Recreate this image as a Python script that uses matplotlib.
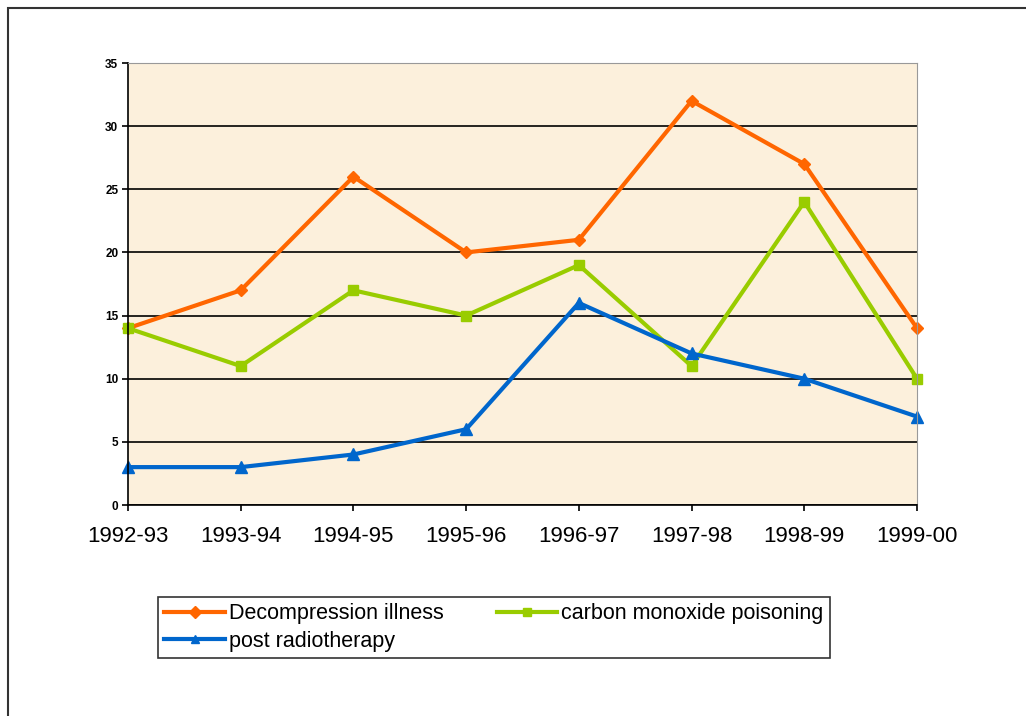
import matplotlib.pyplot as plt
from matplotlib.patches import Rectangle

plt.rcParams['font.family'] = ['Liberation Sans', 'DejaVu Sans']

seasons = ['1992-93', '1993-94', '1994-95', '1995-96', '1996-97', '1997-98', '1998-99', '1999-00']
decompression = [14, 17, 26, 20, 21, 32, 27, 14]
carbon_monoxide = [14, 11, 17, 15, 19, 11, 24, 10]
radiotherapy = [3, 3, 4, 6, 16, 12, 10, 7]
y_ticks = [0, 5, 10, 15, 20, 25, 30, 35]


def main():
    fig = plt.figure(figsize=(10.26, 7.16), dpi=100)
    ax = fig.add_axes([128 / 1026, 1 - 505 / 716, (917 - 128) / 1026, (505 - 63) / 716])
    ax.set_facecolor('#FCF0DC')

    x = range(len(seasons))
    l1, = ax.plot(x, decompression, color='#FF6600', lw=3, marker='D', ms=6, label='Decompression illness')
    l2, = ax.plot(x, carbon_monoxide, color='#99CC00', lw=3, marker='s', ms=7, label='carbon monoxide poisoning')
    l3, = ax.plot(x, radiotherapy, color='#0066CC', lw=3, marker='^', ms=8, label='post radiotherapy')
    for ln in (l1, l2, l3):
        ln.set_clip_on(False)

    ax.set_xlim(0, len(seasons) - 1)
    ax.set_ylim(0, 35)
    ax.set_yticks(y_ticks)
    ax.set_yticklabels([str(v) for v in y_ticks], fontsize=8.5, fontweight='bold')
    ax.set_xticks(list(x))
    ax.set_xticklabels(seasons, fontsize=16)
    ax.tick_params(axis='x', length=4, width=1.2, pad=11, color='black')
    ax.tick_params(axis='y', length=4, width=1.2, pad=3, color='black')
    ax.grid(axis='y', color='black', lw=1.2)
    ax.set_axisbelow(True)
    ax.spines['left'].set_linewidth(1.2)
    ax.spines['bottom'].set_linewidth(1.2)
    ax.spines['top'].set_color('#999999')
    ax.spines['right'].set_color('#999999')

    leg = fig.legend(handles=[l1, l3, l2], ncol=2, loc='upper left',
                     bbox_to_anchor=(158 / 1026, 1 - 660 / 716, (830 - 158) / 1026, (660 - 597) / 716),
                     mode='expand', fontsize=15.5, frameon=True, fancybox=False,
                     edgecolor='black', borderaxespad=0, handlelength=2.8,
                     handletextpad=0.2, labelspacing=0.3, borderpad=0.3, columnspacing=1)
    leg.get_frame().set_linewidth(1.2)
    for h in leg.legend_handles:
        h.set_markersize(6)

    fig.patches.append(Rectangle((8 / 1026, -0.1), 1.2, 1 - 8 / 716 + 0.1, transform=fig.transFigure,
                                 fill=False, edgecolor='#333333', lw=1.5))
    fig.savefig('out.png', dpi=100)


if __name__ == '__main__':
    main()
